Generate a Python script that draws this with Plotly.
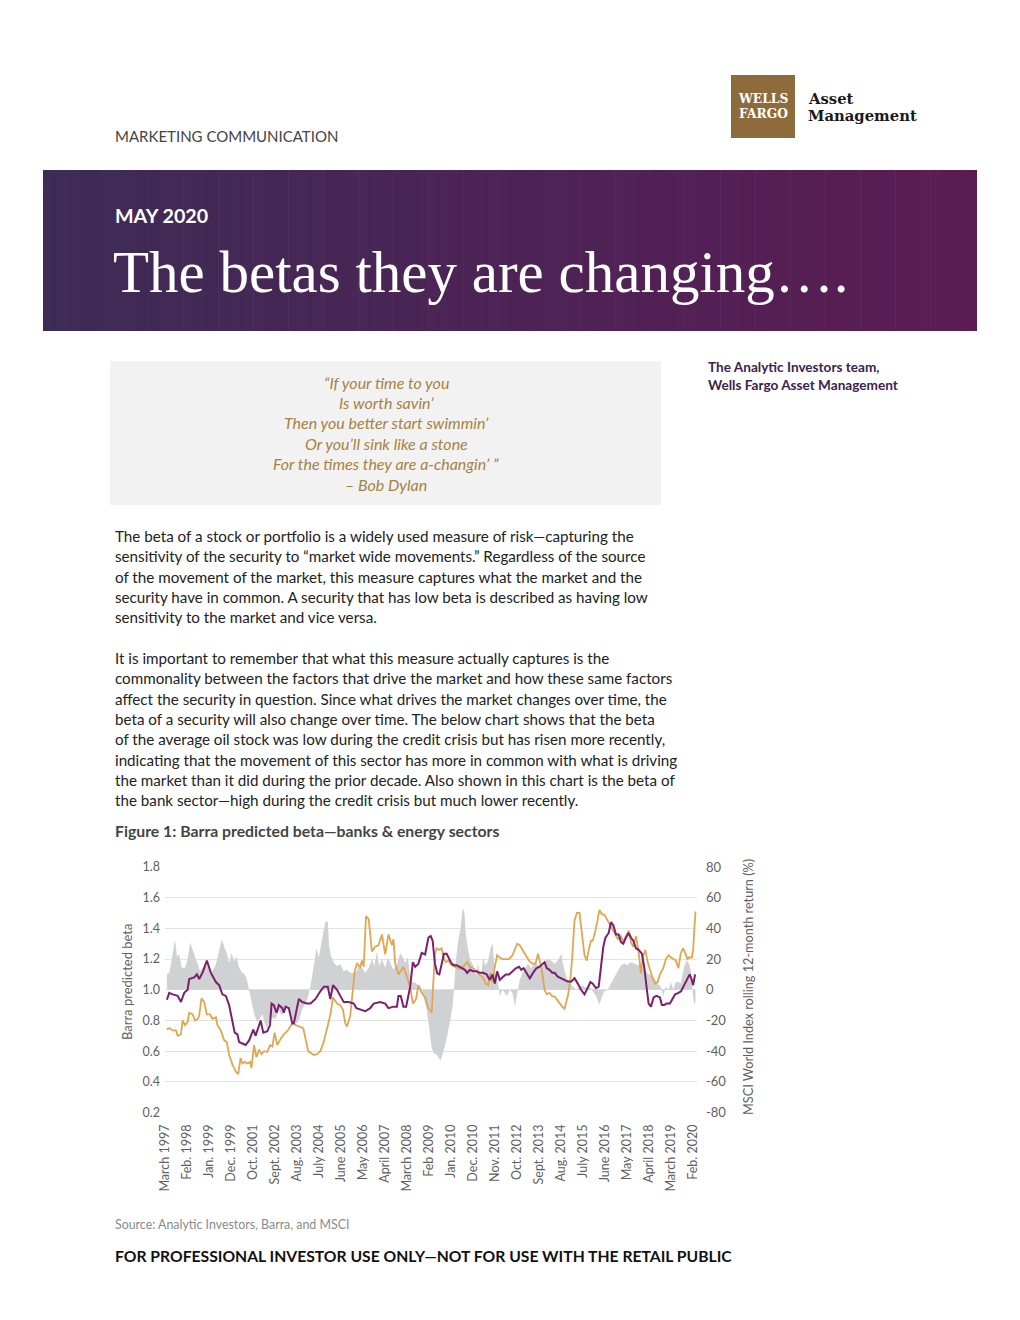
import plotly.graph_objects as go

# figure is placed in a page with 8px body margin; page coordinates are mapped below
W, H = 1004, 1304
OFF = 8

# ---------------- data ----------------
x_labels = ["March 1997", "Feb. 1998", "Jan. 1999", "Dec. 1999", "Oct. 2001", "Sept. 2002",
            "Aug. 2003", "July 2004", "June 2005", "May 2006", "April 2007", "March 2008",
            "Feb 2009", "Jan. 2010", "Dec. 2010", "Nov. 2011", "Oct. 2012", "Sept. 2013",
            "Aug. 2014", "July 2015", "June 2016", "May 2017", "April 2018", "March 2019",
            "Feb. 2020"]
label_step = 275 / 24  # label spacing in months (labels evenly spaced)

right_ticks = [-80, -60, -40, -20, 0, 20, 40, 60, 80]
left_ticks = [0.2, 0.4, 0.6, 0.8, 1.0, 1.2, 1.4, 1.6, 1.8]

banks_month = [1.0, 2.2, 4.0, 6.6, 8.3, 10.0, 11.8, 12.6, 15.2, 16.6, 17.8, 19.5, 21.8, 23.9,
               26.5, 28.2, 29.9, 31.7, 33.4, 35.1, 36.3, 37.7, 38.6, 40.3, 42.0, 43.8, 46.0,
               47.2, 49.8, 51.2, 53.3, 54.7, 55.5, 56.7, 58.1, 59.3, 61.1, 61.9, 62.8, 64.5,
               65.4, 66.3, 67.1, 68.0, 68.9, 69.7, 71.5, 74.0, 75.8, 78.4, 80.9, 82.7, 84.8,
               86.1, 87.5, 89.6, 91.3, 93.1, 95.7, 98.3, 99.7, 101.7, 104.3, 106.9, 108.7,
               112.1, 114.7, 116.4, 119.0, 120.8, 121.6, 122.8, 124.2, 125.6, 126.8, 127.7,
               129.1, 130.3, 132.0, 133.7, 135.5, 137.2, 138.4, 139.4, 140.6, 141.8, 142.9,
               144.1, 145.3, 146.7, 148.1, 149.3, 150.5, 151.9, 153.3, 154.5, 156.2, 157.4,
               158.8, 160.5, 162.3, 164.0, 165.7, 167.5, 169.2, 170.6, 171.8, 173.0, 174.4,
               176.1, 177.5, 179.2, 181.0, 182.7, 184.4, 185.6, 186.8, 188.2, 190.0, 191.7,
               193.4, 195.1, 196.5, 197.7, 198.9, 200.3, 201.7, 202.9, 204.6, 206.4, 208.1,
               209.8, 211.6, 213.3, 215.0, 216.7, 218.5, 220.2, 221.6, 222.8, 224.5, 225.9,
               227.1, 228.3, 229.4, 231.1, 232.3, 233.5, 234.9, 236.3, 237.5, 238.7, 240.1,
               241.5, 242.7, 243.9, 245.3, 246.7, 248.4, 249.6, 251.0, 251.9, 253.1, 254.5,
               256.0, 257.8, 258.8, 260.0, 261.2, 263.0, 264.3, 265.7, 267.4, 268.8, 270.4,
               272.1, 273.3, 274.4, 275.1, 276.1]
banks_beta = [0.935, 0.98, 0.97, 0.96, 0.92, 0.98, 1.00, 1.07, 1.08, 1.10, 1.07, 1.11, 1.19, 1.11,
              1.05, 1.03, 0.97, 0.96, 0.90, 0.79, 0.72, 0.71, 0.66, 0.65, 0.64, 0.67, 0.74,
              0.70, 0.80, 0.72, 0.73, 0.77, 0.91, 0.90, 0.85, 0.90, 0.88, 0.85, 0.89, 0.88,
              0.83, 0.78, 0.78, 0.84, 0.91, 0.94, 0.92, 0.91, 0.91, 0.94, 0.99, 1.02, 1.02,
              0.94, 1.03, 1.00, 0.96, 0.92, 0.92, 0.91, 0.88, 0.87, 0.86, 0.88, 0.91,
              0.92, 0.91, 0.88, 0.89, 0.89, 0.96, 0.96, 0.89, 0.89, 0.96, 1.02,
              1.18, 1.15, 1.17, 1.24, 1.23, 1.34, 1.35, 1.32, 1.17, 1.107, 1.10,
              1.16, 1.235, 1.235, 1.20, 1.17, 1.16, 1.16, 1.15, 1.14, 1.13, 1.11,
              1.13, 1.12, 1.12, 1.11, 1.11, 1.10, 1.064, 1.10, 1.04, 1.12, 1.064,
              1.085, 1.10, 1.10, 1.12, 1.14, 1.15, 1.13, 1.14, 1.11, 1.075, 1.11,
              1.14, 1.15, 1.17, 1.18, 1.14, 1.13, 1.11, 1.11, 1.085, 1.075, 1.064,
              1.053, 1.053, 1.075, 1.04, 1.00, 0.97, 1.01, 1.05, 1.04, 1.01, 1.02,
              1.16, 1.28, 1.34, 1.37, 1.44, 1.42, 1.36, 1.36, 1.31, 1.30, 1.34,
              1.37, 1.34, 1.32, 1.27, 1.26, 1.235, 1.15, 1.00, 0.91, 0.89, 0.95,
              0.96, 0.95, 0.90, 0.90, 0.91, 0.91, 0.94, 0.97, 0.98, 0.99, 1.03,
              1.075, 1.10, 1.064, 1.03, 1.10]

energy_month = [1.0, 2.2, 4.0, 5.7, 6.6, 8.3, 9.2, 10.4, 11.8, 12.6, 14.4, 15.6, 17.0, 17.8,
                19.0, 20.4, 21.8, 23.5, 24.7, 26.5, 27.3, 29.1, 30.8, 32.2, 33.4, 35.1, 36.9,
                38.1, 39.4, 40.3, 41.5, 42.9, 44.3, 45.0, 46.4, 47.6, 49.0, 50.2, 51.6, 53.3,
                54.7, 55.9, 57.1, 58.5, 60.2, 61.9, 63.7, 65.4, 66.8, 68.0, 70.6, 72.0, 73.2,
                74.6, 75.8, 77.5, 79.2, 80.9, 82.7, 84.4, 86.2, 87.5, 89.6, 91.3, 92.7, 93.9,
                94.8, 96.5, 97.9, 98.8, 100.0, 101.7, 102.6, 103.5, 104.7, 106.1, 107.8, 109.5,
                111.2, 113.0, 114.7, 116.4, 118.2, 119.0, 119.9, 121.6, 124.2, 126.0, 127.7,
                129.1, 130.8, 132.0, 133.7, 135.5, 137.2, 138.9, 139.8, 140.6, 141.5, 142.9,
                144.1, 145.0, 146.3, 147.6, 149.3, 151.0, 152.8, 154.5, 156.2, 157.4, 158.8,
                160.5, 162.3, 164.0, 165.7, 167.1, 168.3, 169.5, 170.6, 171.8, 173.0, 174.4,
                175.8, 177.5, 179.2, 181.0, 182.2, 183.4, 184.8, 186.1, 187.9, 189.6, 191.3,
                193.0, 194.3, 195.5, 196.5, 197.7, 198.9, 200.3, 201.7, 202.9, 204.1, 205.5,
                206.9, 208.1, 209.8, 211.0, 212.1, 213.3, 214.5, 215.9, 216.7, 217.6, 218.5,
                219.7, 220.7, 221.9, 222.8, 224.2, 225.4, 226.3, 227.7, 228.9, 230.6, 232.3,
                234.1, 235.8, 237.5, 238.7, 240.1, 241.5, 242.7, 243.9, 245.3, 246.7, 247.9,
                248.8, 250.2, 251.4, 252.6, 254.0, 255.3, 256.6, 257.8, 259.5, 260.9, 262.3,
                263.5, 264.7, 266.1, 267.4, 268.6, 269.8, 271.2, 272.1, 272.9, 274.4, 275.1,
                275.8, 276.3]
energy_beta = [0.742, 0.75, 0.735, 0.735, 0.70, 0.71, 0.80, 0.77, 0.79, 0.85, 0.84, 0.80, 0.81, 0.83,
               0.944, 0.92, 0.84, 0.84, 0.81, 0.82, 0.77, 0.735, 0.67, 0.66, 0.574, 0.514, 0.467,
               0.45, 0.555, 0.52, 0.53, 0.52, 0.53, 0.49, 0.64, 0.56, 0.61, 0.58, 0.60, 0.595,
               0.64, 0.63, 0.72, 0.64, 0.68, 0.71, 0.73, 0.76, 0.79, 0.77, 0.76, 0.75, 0.68,
               0.60, 0.59, 0.575, 0.58, 0.60, 0.66, 0.75, 0.84, 0.95, 0.91, 0.90, 0.87, 0.78,
               0.76, 0.83, 1.00, 1.12, 1.17, 1.15, 1.19, 1.15, 1.48, 1.46, 1.25, 1.28,
               1.29, 1.36, 1.23, 1.36, 1.29, 1.33, 1.17, 1.10, 1.15, 1.08, 1.02,
               0.91, 0.94, 1.03, 0.98, 0.95, 0.88, 0.85, 1.04, 1.235, 1.27, 1.26,
               1.27, 1.21, 1.18, 1.19, 1.16, 1.15, 1.14, 1.14, 1.16, 1.18, 1.15,
               1.14, 1.12, 1.10, 1.075, 1.04, 1.03, 1.11, 1.05, 1.15, 1.225, 1.21,
               1.20, 1.20, 1.20, 1.225, 1.27, 1.30, 1.29, 1.26, 1.225, 1.19, 1.17,
               1.17, 1.235, 1.17, 1.11, 1.00, 0.97, 0.98, 0.957, 0.957, 0.936, 0.914,
               0.89, 0.876, 0.957, 1.05, 1.21, 1.45, 1.50, 1.50, 1.43, 1.32, 1.225,
               1.19, 1.26, 1.32, 1.32, 1.385, 1.46, 1.52, 1.49, 1.49, 1.45, 1.41,
               1.37, 1.33, 1.35, 1.31, 1.35, 1.385, 1.31, 1.28, 1.35, 1.246, 1.107,
               1.21, 1.26, 1.18, 1.13, 1.075, 1.04, 1.05, 1.10, 1.14, 1.20, 1.225,
               1.21, 1.20, 1.19, 1.14, 1.235, 1.27, 1.235, 1.20, 1.21, 1.21, 1.26,
               1.41, 1.51]

msci_month = [1.0, 2.2, 3.1, 5.2, 6.2, 7.4, 8.7, 10.4, 11.8, 13.1, 14.4, 16.1, 17.3, 18.3, 19.5,
              21.3, 23.0, 24.7, 26.5, 28.2, 29.6, 30.8, 32.2, 33.4, 34.6, 36.0, 37.2, 38.6,
              40.3, 41.5, 42.6, 43.8, 45.5, 46.7, 48.1, 49.3, 50.7, 51.9, 53.3, 54.7, 55.9,
              57.6, 59.3, 61.1, 62.8, 64.5, 66.3, 67.5, 68.9, 70.2, 71.5, 73.2, 74.4, 75.8,
              76.6, 77.9, 78.9, 80.1, 81.3, 82.7, 83.6, 84.8, 85.5, 86.5, 87.9, 89.6, 91.3,
              93.1, 94.8, 96.5, 98.3, 100.0, 100.9, 102.6, 104.3, 106.1, 107.8, 109.0, 110.4,
              111.6, 113.0, 114.7, 116.1, 117.3, 119.0, 120.8, 122.5, 123.9, 125.1, 126.5,
              127.7, 129.1, 130.3, 132.0, 134.0, 134.6, 136.3, 137.7, 138.9, 140.1, 141.5,
              142.9, 143.6, 145.0, 146.7, 148.4, 149.8, 150.5, 151.5, 152.7, 154.0, 155.0,
              155.9, 156.7, 157.9, 159.1, 160.5, 161.9, 163.1, 164.5, 165.7, 166.9, 168.3,
              169.7, 170.6, 171.3, 172.3, 173.5, 174.4, 175.8, 177.0, 178.2, 179.6, 181.0,
              182.2, 183.4, 184.8, 186.1, 187.9, 189.1, 190.8, 192.5, 194.3, 196.0, 197.7,
              199.5, 201.2, 202.9, 204.6, 206.4, 207.6, 209.0, 210.7, 212.4, 214.2, 215.9,
              217.6, 219.4, 221.1, 222.8, 224.5, 226.3, 227.7, 228.9, 230.6, 232.3, 234.1,
              235.8, 237.5, 239.2, 240.9, 242.7, 244.4, 246.2, 247.9, 249.6, 251.4, 253.1,
              254.8, 256.6, 258.3, 259.5, 260.9, 262.3, 263.5, 264.7, 266.1, 267.4, 268.7,
              270.4, 271.6, 273.0, 273.9, 275.1, 275.8, 276.3]
msci_return = [10, 11, 16.6, 32.7, 22, 23, 14.4, 14.4, 20, 31, 26, 20, 16.6, 12, 14.4,
               16.6, 13, 12, 16.6, 25, 33, 28, 24, 17.6, 24, 18.7, 21.5, 14.4,
               11, 10, 7, -0.6, -10, -17, -21, -19, -16, -22, -25, -19, -18,
               -19, -13.5, -17, -10, -14.6, -19, -20, -22, -18, -12.5, -9, -5, 2.6,
               9, 16.6, 27, 21, 30.5, 39, 44.5, 44.5, 28, 22, 17.6, 15.5, 16.6,
               12, 13, 11, 11, 12, 16.6, 14.4, 11, 14.4, 20, 15.5, 25,
               15.5, 20, 14.4, 21, 17.6, 13, 16.6, 24, 21, 17.6, 21,
               9, 4.7, 4.7, 3, 0, -4, -13, -25.6, -38, -41.6, -42,
               -45, -46, -40.5, -32, -21, -10.7, 0, 19, 32, 40.5, 53,
               51, 36, 25.6, 19, 16, 9.6, 17, 7.5, 21, 16, 19,
               27.7, 30, 19, 8.5, 4, -4, 0, -2, -4, 0, -2,
               -10.7, -2, 6.4, 10.7, 14, 17, 14, 18, 16, 14, 18,
               20, 19, 17, 19, 23.5, 15, 8.5, 4, 2, 0, 2,
               3, 1, 2, -1, -4, -9.6, -4, -1, 0, 4, 8.5,
               12.8, 16, 17, 16, 18, 17, 16, 17, 14, 10.7, 9.6,
               7.5, 4, 2, -4, 2, 0, 5, 0, 5, 5, 4,
               15, 19, 17, 12, -5, -9.6, -8]

# ---------------- styling helpers ----------------
def px(x):
    return (x - OFF) / W

def py(y):
    return 1 - (y - OFF) / H

PURPLE = "#7b1f6f"
GOLD = "#e0a651"
GREY_FILL = "#cfd1d3"
GRID = "#e3e3e3"
TICK = "#5f5f5f"
SANS = "Lato"

fig = go.Figure()

fig.add_trace(go.Scatter(x=msci_month, y=msci_return, yaxis="y", mode="lines",
                         line=dict(width=0, color=GREY_FILL), fill="tozeroy",
                         fillcolor=GREY_FILL, hoverinfo="skip", name="MSCI World"))
fig.add_trace(go.Scatter(x=energy_month, y=energy_beta, yaxis="y2", mode="lines",
                         line=dict(width=1.8, color=GOLD), name="Energy"))
fig.add_trace(go.Scatter(x=banks_month, y=banks_beta, yaxis="y2", mode="lines",
                         line=dict(width=2.0, color=PURPLE), name="Banks"))

ydom = [py(1113), py(866.5)]
tick_pos = [i * label_step for i in range(len(x_labels))]

fig.update_layout(
    width=W, height=H, margin=dict(l=0, r=0, t=0, b=0, pad=0, autoexpand=False),
    paper_bgcolor="white", plot_bgcolor="white", showlegend=False,
    xaxis=dict(domain=[px(165), px(697)], range=[0, 277.1], showgrid=False, automargin=False,
               zeroline=False, showline=False, tickmode="array", tickvals=tick_pos,
               ticktext=x_labels, tickangle=-90, ticks="", ticklabelstandoff=8,
               tickfont=dict(family=SANS, size=12.5, color=TICK)),
    yaxis=dict(domain=ydom, range=[-80.3, 80.3], side="right", automargin=False,
               tickmode="array", tickvals=right_ticks, ticktext=[str(v) for v in right_ticks],
               showgrid=True, gridcolor=GRID, gridwidth=1, zeroline=False,
               showline=False, ticks="", ticklabelstandoff=8,
               tickfont=dict(family=SANS, size=13, color=TICK)),
    yaxis2=dict(domain=ydom, range=[0.197, 1.803], overlaying="y", side="left", automargin=False,
                tickmode="array", tickvals=left_ticks, ticktext=["%.1f" % v for v in left_ticks],
                showgrid=False, zeroline=False, showline=False, ticks="", ticklabelstandoff=4,
                tickfont=dict(family=SANS, size=12.5, color=TICK)),
)

shapes = []
# header banner gradient (vertical strips)
n = 80
x0b, x1b = 43, 977
c0 = (62, 43, 86)
c1 = (91, 28, 84)
for i in range(n):
    t = i / (n - 1)
    col = tuple(int(round(c0[k] + (c1[k] - c0[k]) * t)) for k in range(3))
    xa = x0b + (x1b - x0b) * i / n
    xb = x0b + (x1b - x0b) * (i + 1) / n + 0.6
    shapes.append(dict(type="rect", xref="paper", yref="paper", x0=px(xa), x1=px(min(xb, x1b)),
                       y0=py(331), y1=py(170), line=dict(width=0),
                       fillcolor="rgb(%d,%d,%d)" % col, layer="below"))
# logo box
shapes.append(dict(type="rect", xref="paper", yref="paper", x0=px(731), x1=px(795),
                   y0=py(138), y1=py(75), line=dict(width=0), fillcolor="#8e6b3b", layer="below"))
# quote box
shapes.append(dict(type="rect", xref="paper", yref="paper", x0=px(110), x1=px(661),
                   y0=py(505), y1=py(361), line=dict(width=0), fillcolor="#f2f2f2", layer="below"))
fig.update_layout(shapes=shapes)

ann = []

def text(x, y, s, size, color="#222", family=SANS, weight="normal", style="normal",
         xanchor="left", angle=0):
    ann.append(dict(xref="paper", yref="paper", x=px(x), y=py(y), text=s, showarrow=False,
                    xanchor=xanchor, yanchor="middle", textangle=angle, borderpad=0,
                    font=dict(family=family, size=size, color=color, weight=weight, style=style)))

text(114, 136, "MARKETING COMMUNICATION", 15, "#444")
text(763, 99, "WELLS", 12.3, "white", "DejaVu Serif", "bold", xanchor="center")
text(763, 114, "FARGO", 12.3, "white", "DejaVu Serif", "bold", xanchor="center")
text(807, 99, "Asset", 14.8, "#1a1a1a", "DejaVu Serif", "bold")
text(807, 116, "Management", 14.8, "#1a1a1a", "DejaVu Serif", "bold")
text(114, 216, "MAY 2020", 19.7, "white", SANS, "bold")
text(112, 272, "The betas they are changing\u2026.", 59, "white", "Liberation Serif")

quote_lines = ["\u201cIf your time to you", "Is worth savin\u2019", "Then you better start swimmin\u2019",
               "Or you\u2019ll sink like a stone", "For the times they are a-changin\u2019 \u201d",
               "\u2013 Bob Dylan"]
for i, s in enumerate(quote_lines):
    text(386, 382 + i * 20.4, s, 16, "#a7823f", SANS, style="italic", xanchor="center")

text(707, 367, "The Analytic Investors team,", 13.6, "#3b2350", SANS, "bold")
text(707, 385, "Wells Fargo Asset Management", 13.6, "#3b2350", SANS, "bold")

para1 = ["The beta of a stock or portfolio is a widely used measure of risk\u2014capturing the",
         "sensitivity of the security to \u201cmarket wide movements.\u201d Regardless of the source",
         "of the movement of the market, this measure captures what the market and the",
         "security have in common. A security that has low beta is described as having low",
         "sensitivity to the market and vice versa."]
para2 = ["It is important to remember that what this measure actually captures is the",
         "commonality between the factors that drive the market and how these same factors",
         "affect the security in question. Since what drives the market changes over time, the",
         "beta of a security will also change over time. The below chart shows that the beta",
         "of the average oil stock was low during the credit crisis but has risen more recently,",
         "indicating that the movement of this sector has more in common with what is driving",
         "the market than it did during the prior decade. Also shown in this chart is the beta of",
         "the bank sector\u2014high during the credit crisis but much lower recently."]
for i, s in enumerate(para1):
    text(114, 536 + i * 20.3, s, 15.2, "#222")
for i, s in enumerate(para2):
    text(114, 658 + i * 20.3, s, 15.2, "#222")

text(114, 830, "Figure 1: Barra predicted beta\u2014banks & energy sectors", 15.8, "#444", SANS, "bold")
text(127, 982, "Barra predicted beta", 13, TICK, angle=-90, xanchor="center")
text(748, 987, "MSCI World Index rolling 12-month return (%)", 12.7, TICK, angle=-90, xanchor="center")
text(114, 1224, "Source: Analytic Investors, Barra, and MSCI", 12.4, "#8a8a8a")
text(114, 1256, "FOR PROFESSIONAL INVESTOR USE ONLY\u2014NOT FOR USE WITH THE RETAIL PUBLIC", 15.7,
     "#111", SANS, "bold")

fig.update_layout(annotations=ann)
fig.write_html("out.html")
